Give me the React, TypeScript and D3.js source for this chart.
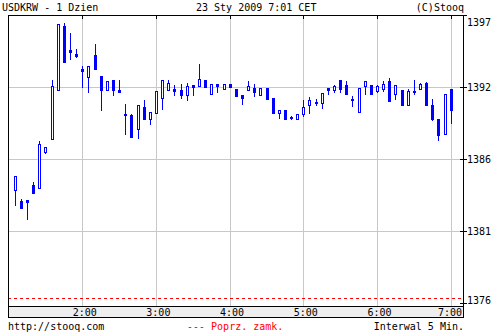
import React from "react";
import * as d3 from "d3";

// time slots: minutes after 0:00 for each 5-minute candle (1:05 .. 7:00)
const startMinute = 65;
const stepMinutes = 5;

const opens = [
  1384.14, 1383.37, 1383.44, 1384.52, 1384.33, 1386.93, 1387.87, 1391.41, 1396.01, 1394.29,
  1393.98, 1392.92, 1392.34, 1393.91, 1392.39, 1391.41, 1392.11, 1391.38, 1389.65, 1389.58,
  1388.59, 1390.16, 1389.27, 1389.74, 1390.78, 1391.36, 1391.46, 1391.38, 1391.04, 1391.74,
  1391.69, 1392.11, 1391.12, 1391.82, 1391.48, 1391.82, 1391.46, 1391.02, 1391.41, 1391.53,
  1391.04, 1391.53, 1390.81, 1389.74, 1389.92, 1389.46, 1389.27, 1389.63, 1390.30, 1390.52,
  1390.47, 1391.53, 1391.36, 1392.08, 1391.72, 1390.71, 1389.77, 1391.65, 1391.74, 1391.29,
  1391.43, 1392.03, 1391.12, 1391.38, 1390.32, 1391.29, 1391.43, 1391.87, 1390.30, 1389.29,
  1388.18, 1391.46,
];
const highs = [
  1385.15, 1383.51, 1383.44, 1384.72, 1387.70, 1387.24, 1392.11, 1396.13, 1396.22, 1395.50,
  1394.34, 1393.12, 1393.12, 1394.71, 1392.39, 1392.03, 1392.11, 1392.13, 1390.37, 1389.65,
  1390.28, 1390.66, 1389.77, 1391.31, 1392.11, 1392.08, 1391.74, 1391.80, 1391.87, 1391.74,
  1393.26, 1392.11, 1391.82, 1391.82, 1391.82, 1391.82, 1391.46, 1391.02, 1392.03, 1391.82,
  1391.53, 1391.53, 1390.81, 1389.92, 1389.92, 1389.53, 1389.65, 1390.64, 1390.90, 1390.73,
  1391.15, 1391.53, 1391.72, 1392.08, 1392.06, 1390.97, 1391.51, 1392.01, 1391.74, 1391.77,
  1392.03, 1392.25, 1391.72, 1391.38, 1391.43, 1392.11, 1391.87, 1391.94, 1390.71, 1389.29,
  1391.09, 1391.46,
];
const lows = [
  1383.08, 1382.88, 1382.07, 1383.97, 1384.33, 1386.86, 1387.87, 1391.41, 1393.43, 1393.64,
  1393.77, 1391.62, 1391.26, 1392.88, 1389.94, 1391.41, 1391.02, 1391.26, 1388.21, 1388.01,
  1387.89, 1389.31, 1388.91, 1389.74, 1390.01, 1391.36, 1391.02, 1390.83, 1390.68, 1391.04,
  1391.69, 1391.62, 1391.12, 1391.24, 1391.48, 1391.62, 1390.97, 1390.39, 1391.41, 1390.97,
  1391.04, 1390.75, 1389.74, 1389.38, 1389.31, 1389.31, 1389.27, 1389.53, 1389.74, 1390.30,
  1390.11, 1391.12, 1391.26, 1391.24, 1391.12, 1390.25, 1389.77, 1391.12, 1391.12, 1391.26,
  1391.29, 1390.61, 1390.75, 1390.32, 1390.32, 1391.09, 1391.43, 1390.32, 1389.22, 1387.77,
  1388.18, 1389.02,
];
const closes = [
  1385.15, 1382.88, 1383.32, 1383.97, 1387.46, 1387.24, 1391.67, 1396.13, 1393.43, 1394.15,
  1393.84, 1392.78, 1393.12, 1392.88, 1391.41, 1392.03, 1391.36, 1391.26, 1389.58, 1388.01,
  1390.28, 1389.31, 1389.77, 1391.31, 1392.11, 1391.89, 1391.31, 1391.04, 1391.65, 1391.62,
  1392.18, 1391.62, 1391.82, 1391.67, 1391.82, 1391.62, 1390.97, 1390.83, 1391.67, 1391.26,
  1391.53, 1390.75, 1389.74, 1389.92, 1389.31, 1389.41, 1389.65, 1390.13, 1390.64, 1390.47,
  1391.15, 1391.41, 1391.67, 1391.48, 1391.12, 1390.66, 1391.51, 1392.01, 1391.12, 1391.67,
  1391.80, 1390.61, 1391.72, 1390.32, 1391.29, 1391.22, 1391.80, 1390.32, 1389.29, 1388.13,
  1391.09, 1389.94,
];

const previousClose = 1376.34;

const yTickValues = [1396.8, 1391.6, 1386.4, 1381.2, 1376.0];
const xTickMinutes = [120, 180, 240, 300, 360, 420];
const xTickLabels = ["2:00", "3:00", "4:00", "5:00", "6:00", "7:00"];

const titleLeft = "USDKRW - 1 Dzien";
const titleCenter = "23 Sty 2009 7:01 CET";
const titleRight = "(C)Stooq";
const footerLeft = "http://stooq.com";
const footerCenter = "--- Poprz. zamk.";
const footerRight = "Interwal 5 Min.";

const FONT = "'DejaVu Sans Mono', monospace";
const BLUE = "#0000ff";
const GRID = "#c8c8c8";

export default function App() {
  const left = 8, right = 463, top = 15, bottom = 306;
  const x = d3.scaleLinear().domain([59.5, 430]).range([left, right]);
  const y = d3.scaleLinear().domain([1376.0, 1396.8]).range([303, top]);
  const fmt = d3.format(".0f");

  const candles = opens.map((o, i) => ({
    t: startMinute + i * stepMinutes,
    o,
    h: highs[i],
    l: lows[i],
    c: closes[i],
  }));

  return (
    <svg
      width={500}
      height={333}
      style={{ position: "absolute", left: 0, top: 0, background: "#fff" }}
      fontFamily={FONT}
      fontSize={10}
    >
      <rect x={0} y={0} width={500} height={333} fill="#fff" />
      {/* header */}
      <text x={2} y={11} fill="#000">{titleLeft}</text>
      <text x={196} y={11} fill="#000">{titleCenter}</text>
      <text x={464} y={11} fill="#000" textAnchor="end">{titleRight}</text>

      {/* horizontal grid */}
      {yTickValues.slice(1, 4).map((v) => (
        <line key={"hg" + v} x1={left} x2={right} y1={Math.round(y(v)) + 0.5} y2={Math.round(y(v)) + 0.5} stroke={GRID} />
      ))}
      {/* vertical grid */}
      {xTickMinutes.map((m) => {
        const gx = Math.round(x(m)) + 0.5;
        return <line key={"vg" + m} x1={gx} x2={gx} y1={top} y2={bottom} stroke={GRID} />;
      })}
      {/* top ticks */}
      {xTickMinutes.map((m) => {
        const gx = Math.round(x(m)) + 0.5;
        return <line key={"tt" + m} x1={gx} x2={gx} y1={top} y2={top + 4} stroke="#000" />;
      })}

      {/* previous close */}
      <line
        x1={left}
        x2={right}
        y1={Math.round(y(previousClose)) + 0.5}
        y2={Math.round(y(previousClose)) + 0.5}
        stroke="#ff0000"
        strokeDasharray="3,3"
      />

      {/* candles */}
      {candles.map((d, i) => {
        const cx = Math.round(x(d.t));
        const up = d.c > d.o;
        const yh = Math.round(y(d.h));
        const yl = Math.round(y(d.l));
        const yTop = Math.round(y(Math.max(d.o, d.c)));
        const yBot = Math.round(y(Math.min(d.o, d.c)));
        return (
          <g key={i}>
            <line x1={cx + 0.5} x2={cx + 0.5} y1={yh} y2={yl + 1} stroke={BLUE} />
            {up ? (
              <rect
                x={cx - 0.5}
                y={yTop + 0.5}
                width={2}
                height={Math.max(1, yBot - yTop)}
                fill="#fff"
                stroke={BLUE}
              />
            ) : (
              <rect x={cx - 1} y={yTop} width={3} height={Math.max(2, yBot - yTop + 1)} fill={BLUE} />
            )}
          </g>
        );
      })}

      {/* plot border */}
      <rect x={left + 0.5} y={top + 0.5} width={right - left} height={bottom - top} fill="none" stroke="#000" />

      {/* right axis */}
      {yTickValues.map((v) => {
        const ty = Math.round(y(v)) + 0.5;
        const by = Math.min(304, Math.max(26, Math.round(y(v)) + 4));
        return (
          <g key={"yt" + v}>
            <line x1={right - 3} x2={right + 4} y1={ty} y2={ty} stroke="#000" />
            <text x={467} y={by} fill="#000">{fmt(v)}</text>
          </g>
        );
      })}

      {/* x axis bar */}
      <rect x={left + 0.5} y={bottom + 0.5} width={right - left} height={11} fill="#eeeeee" stroke="#000" />
      {xTickMinutes.map((m, i) => {
        const cxT = Math.min(x(m) + 2.4, right - 13);
        return (
          <text key={"xl" + m} x={cxT} y={316} textAnchor="middle" fill="#000">
            {xTickLabels[i]}
          </text>
        );
      })}

      {/* footer */}
      <text x={8} y={330} fill="#000">{footerLeft}</text>
      <text x={187} y={330} fill="#ff0000">{footerCenter}</text>
      <text x={464} y={330} fill="#000" textAnchor="end">{footerRight}</text>
    </svg>
  );
}
